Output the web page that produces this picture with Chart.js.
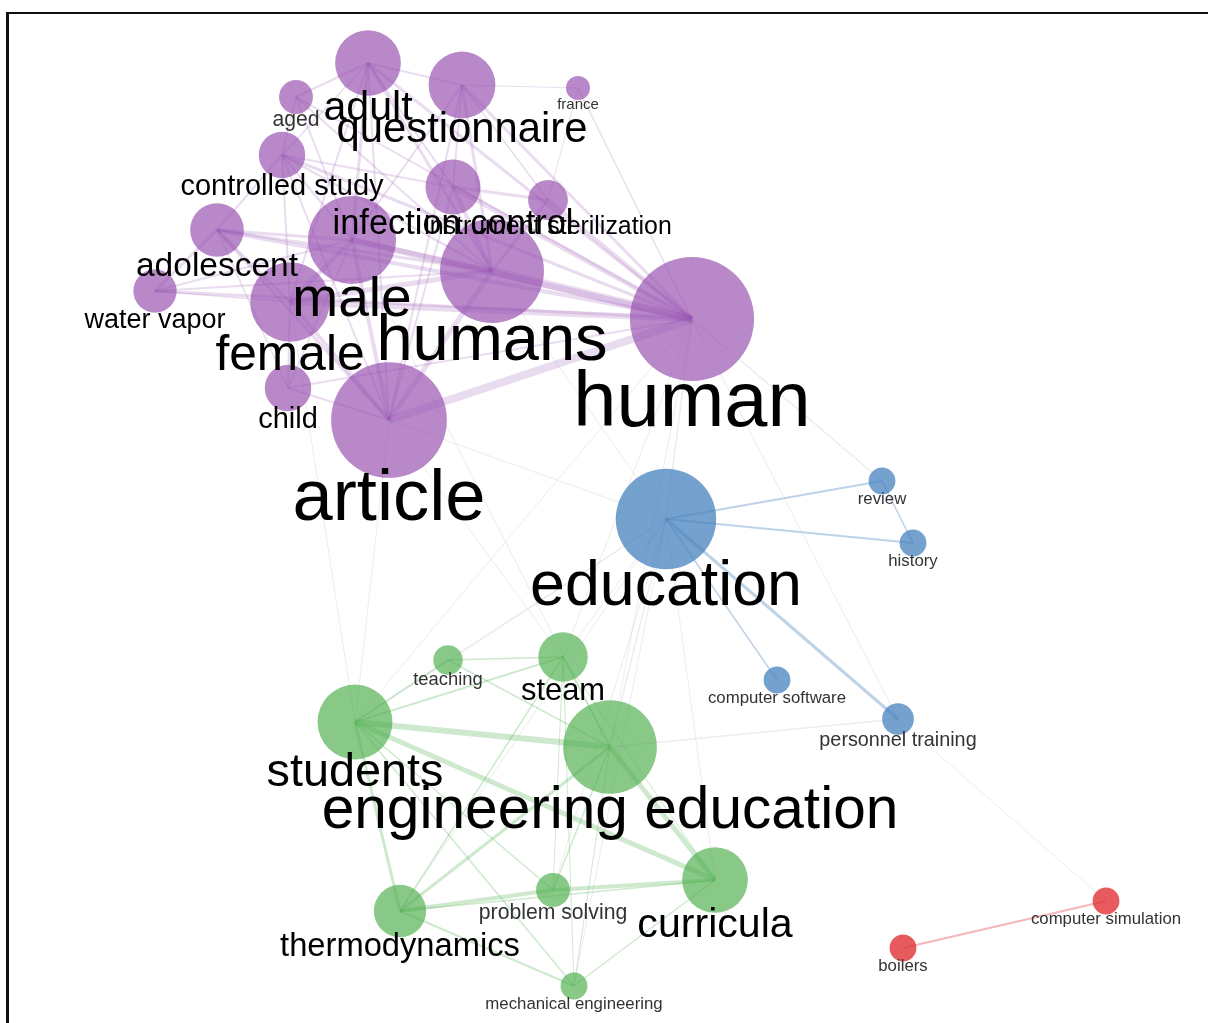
<!DOCTYPE html>
<html>
<head>
<meta charset="utf-8">
<script src="https://cdn.jsdelivr.net/npm/chart.js@4.4.1/dist/chart.umd.min.js"></script>
<style>
  html, body { margin: 0; padding: 0; background: #fff; }
  #wrap { position: relative; width: 1208px; height: 1023px; }
  #frame { position: absolute; left: 6px; top: 12px; right: 0; bottom: 0;
           border-top: 2px solid #111; border-left: 3px solid #111; pointer-events: none; }
</style>
</head>
<body>
<div id="wrap">
  <canvas id="net"></canvas>
  <div id="frame"></div>
</div>
<script>
// nodes of the co-word network (layout coordinates, occurrences, cluster)
const nodeNames = [
  "adult", "questionnaire", "aged", "france", "controlled study", "infection control",
  "instrument sterilization", "adolescent", "male", "humans", "water vapor", "female",
  "human", "child", "article",
  "education", "review", "history", "computer software", "personnel training",
  "teaching", "steam", "students", "engineering education", "curricula",
  "problem solving", "thermodynamics", "mechanical engineering",
  "computer simulation", "boilers"
];
const nodeX = [368, 462, 296, 578, 282, 453, 548, 217, 352, 492, 155, 290, 692, 288, 389,
               666, 882, 913, 777, 898, 448, 563, 355, 610, 715, 553, 400, 574, 1106, 903];
const nodeY = [63, 85, 97, 88, 155, 187, 200, 230, 240, 271, 291, 302, 319, 388, 420,
               519, 481, 543, 680, 719, 660, 657, 722, 747, 880, 890, 911, 986, 901, 948];
const nodeFreq = [30, 31, 8, 4, 15, 21, 11, 20, 54, 75, 13, 44, 107, 15, 93,
                  70, 5, 5, 5, 7, 6, 17, 39, 61, 30, 8, 19, 5, 5, 5];
const nodeGroup = ["bio", "bio", "bio", "bio", "bio", "bio", "bio", "bio", "bio", "bio", "bio", "bio", "bio", "bio", "bio",
                   "edu", "edu", "edu", "edu", "edu",
                   "eng", "eng", "eng", "eng", "eng", "eng", "eng", "eng",
                   "sim", "sim"];

// co-occurrence links: [from, to, strength]
const links = [
  ["human", "humans", 8], ["human", "article", 8], ["human", "male", 6], ["human", "female", 6],
  ["human", "infection control", 5], ["human", "instrument sterilization", 4], ["human", "adult", 3],
  ["human", "questionnaire", 3], ["human", "adolescent", 4], ["human", "controlled study", 3],
  ["human", "aged", 2], ["human", "child", 2], ["human", "water vapor", 3], ["human", "france", 1.5],
  ["humans", "article", 5], ["humans", "male", 5], ["humans", "female", 5], ["humans", "infection control", 4],
  ["humans", "instrument sterilization", 3], ["humans", "adult", 3], ["humans", "questionnaire", 3],
  ["humans", "controlled study", 2], ["humans", "adolescent", 3], ["humans", "aged", 2], ["humans", "water vapor", 2],
  ["article", "male", 4], ["article", "female", 4], ["article", "adolescent", 3], ["article", "controlled study", 2],
  ["article", "child", 2], ["article", "questionnaire", 2], ["article", "adult", 2], ["article", "infection control", 2],
  ["male", "female", 4], ["male", "adolescent", 3], ["male", "adult", 3], ["male", "controlled study", 2],
  ["male", "aged", 2], ["male", "child", 1.5], ["male", "questionnaire", 2], ["male", "water vapor", 2],
  ["female", "adolescent", 3], ["female", "adult", 2], ["female", "child", 2], ["female", "controlled study", 2],
  ["female", "water vapor", 1.5],
  ["adult", "questionnaire", 2], ["adult", "aged", 2], ["adult", "controlled study", 1.5], ["adult", "infection control", 2],
  ["questionnaire", "infection control", 2], ["questionnaire", "instrument sterilization", 1.5], ["questionnaire", "france", 1],
  ["infection control", "instrument sterilization", 3], ["infection control", "controlled study", 2],
  ["adolescent", "water vapor", 3], ["adolescent", "controlled study", 2], ["adolescent", "child", 1.5],
  ["controlled study", "aged", 1.5], ["instrument sterilization", "france", 1],
  ["human", "education", 1.5], ["human", "review", 1.5], ["human", "engineering education", 1],
  ["human", "students", 1], ["human", "steam", 1], ["human", "personnel training", 1],
  ["humans", "education", 1], ["article", "education", 1], ["article", "steam", 1],
  ["article", "students", 1], ["female", "students", 1], ["male", "engineering education", 1],
  ["education", "review", 2], ["education", "history", 2], ["education", "computer software", 1.5],
  ["education", "personnel training", 3], ["review", "history", 1.5],
  ["education", "engineering education", 1.5], ["education", "students", 1], ["education", "steam", 1],
  ["education", "curricula", 1], ["education", "problem solving", 1], ["education", "thermodynamics", 1],
  ["education", "teaching", 1], ["education", "mechanical engineering", 1],
  ["personnel training", "engineering education", 1.5], ["personnel training", "computer simulation", 1],
  ["computer simulation", "boilers", 2],
  ["students", "engineering education", 6], ["students", "curricula", 5], ["engineering education", "curricula", 5],
  ["thermodynamics", "problem solving", 4], ["problem solving", "curricula", 4], ["students", "thermodynamics", 3],
  ["students", "teaching", 2], ["students", "steam", 2], ["teaching", "steam", 1.5], ["steam", "engineering education", 2],
  ["teaching", "engineering education", 1.5], ["thermodynamics", "engineering education", 3],
  ["thermodynamics", "mechanical engineering", 2], ["mechanical engineering", "curricula", 1.5],
  ["mechanical engineering", "students", 1.5], ["mechanical engineering", "engineering education", 1],
  ["problem solving", "engineering education", 1.5], ["problem solving", "steam", 1],
  ["thermodynamics", "steam", 1.5], ["thermodynamics", "curricula", 1.5], ["students", "problem solving", 1.5],
  ["curricula", "steam", 1], ["mechanical engineering", "steam", 1]
];

const groupFill = {
  bio: "rgba(150, 80, 175, 0.68)",
  edu: "rgba(70, 130, 190, 0.75)",
  eng: "rgba(80, 175, 80, 0.68)",
  sim: "rgba(225, 50, 55, 0.8)"
};
const groupLink = {
  bio: "rgba(150, 80, 175, 0.2)",
  edu: "rgba(70, 130, 190, 0.35)",
  eng: "rgba(80, 175, 80, 0.28)",
  sim: "rgba(225, 50, 55, 0.35)"
};

function radius(freq) {
  return 6 * Math.sqrt(freq);
}

const idx = {};
nodeNames.forEach((n, i) => { idx[n] = i; });

// link datasets (drawn under the nodes)
const linkSets = links.map(([a, b, w]) => {
  const ia = idx[a], ib = idx[b];
  const same = nodeGroup[ia] === nodeGroup[ib];
  return {
    type: "line",
    data: [{ x: nodeX[ia], y: nodeY[ia] }, { x: nodeX[ib], y: nodeY[ib] }],
    borderColor: same ? groupLink[nodeGroup[ia]] : "rgba(160, 160, 170, 0.2)",
    borderWidth: w,
    pointRadius: 0,
    fill: false,
    clip: false,
    order: 2
  };
});

// one bubble dataset per cluster
const nodeSets = Object.keys(groupFill).map((g) => ({
  type: "bubble",
  data: nodeNames.map((n, i) => i).filter((i) => nodeGroup[i] === g)
    .map((i) => ({ x: nodeX[i], y: nodeY[i], r: radius(nodeFreq[i]) })),
  backgroundColor: groupFill[g],
  borderWidth: 0,
  clip: false,
  order: 1
}));

const labelPlugin = {
  id: "nodeLabels",
  afterDatasetsDraw(chart) {
    const ctx = chart.ctx;
    const xs = chart.scales.x, ys = chart.scales.y;
    ctx.save();
    ctx.textAlign = "center";
    ctx.textBaseline = "middle";
    nodeNames.forEach((name, i) => {
      const r = radius(nodeFreq[i]);
      const fs = Math.max(15, r * 1.25);
      ctx.font = fs.toFixed(1) + "px 'Liberation Sans', Arial, sans-serif";
      ctx.fillStyle = fs > 22 ? "#000" : "#333";
      ctx.fillText(name, xs.getPixelForValue(nodeX[i]), ys.getPixelForValue(nodeY[i]) + r + fs * 0.3);
    });
    ctx.restore();
  }
};

new Chart(document.getElementById("net"), {
  type: "bubble",
  data: { datasets: [...linkSets, ...nodeSets] },
  options: {
    responsive: true,
    maintainAspectRatio: false,
    animation: false,
    events: [],
    layout: { padding: 0, autoPadding: false },
    plugins: { legend: { display: false }, tooltip: { enabled: false } },
    scales: {
      x: { type: "linear", min: 0, max: 1208, display: false },
      y: { type: "linear", min: 0, max: 1023, reverse: true, display: false }
    },
    elements: { line: { tension: 0 } }
  },
  plugins: [labelPlugin]
});
</script>
</body>
</html>
